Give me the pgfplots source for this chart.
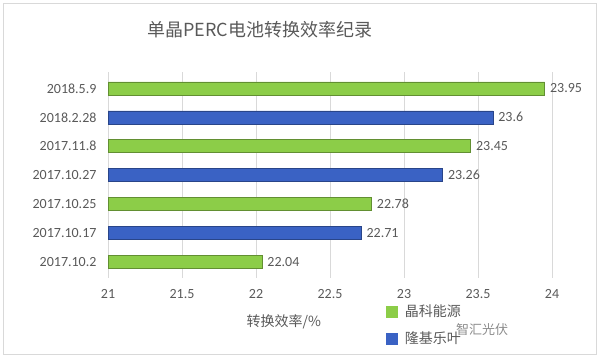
\documentclass[border=0pt]{standalone}
\usepackage{pgfplots}
\pgfplotsset{compat=1.18}
\usepackage{fontspec}
\setmainfont{Carlito}
\newfontfamily\cjk{Noto Sans CJK SC}
\definecolor{bargreen}{RGB}{140,205,72}
\definecolor{barblue}{RGB}{58,98,196}
\definecolor{txtgray}{RGB}{89,89,89}
\definecolor{gridgray}{RGB}{217,217,217}
\begin{document}
\begin{tikzpicture}
\useasboundingbox (0pt,0pt) rectangle (600pt,358pt);
\draw[gridgray] (3pt,4pt) rectangle (596pt,355pt);
\node[font=\cjk\fontsize{18}{22}\selectfont, text=txtgray] at (260pt,328pt) {单晶PERC电池转换效率纪录};
\node[font=\cjk\fontsize{13}{15}\selectfont, text=black!45] at (482pt,28pt) {智汇光伏};
\begin{axis}[
  at={(108pt,80pt)}, anchor=south west, scale only axis,
  width=444pt, height=206pt,
  xbar, bar width=13pt, bar shift=0pt,
  xmin=21, xmax=24, ymin=-0.57, ymax=6.57,
  xtick={21,21.5,...,24}, ytick={0,...,6},
  yticklabels={2017.10.2,2017.10.17,2017.10.25,2017.10.27,2017.11.8,2018.2.28,2018.5.9},
  /pgf/number format/assume math mode=true,
  axis line style={draw=none}, major tick length=0pt,
  xmajorgrids, grid style={gridgray, line width=0.8pt},
  ticklabel style={font=\fontsize{14}{16}\selectfont, text=txtgray},
  xticklabel style={yshift=-8pt},
  yticklabel style={xshift=-8pt},
  xlabel={\cjk 转换效率/\%},
  xlabel style={at={(axis description cs:0.396,-0.214)}, anchor=center, font=\fontsize{14}{16}\selectfont, text=txtgray},
  nodes near coords={\pgfmathprintnumber[fixed,precision=2]{\pgfplotspointmeta}},
  nodes near coords style={font=\fontsize{14}{16}\selectfont, text=txtgray, anchor=west, xshift=2pt},
  legend style={at={(axis description cs:0.62,-0.11)}, anchor=north west, draw=none, fill=none,
    font=\cjk\fontsize{14}{17}\selectfont, text=txtgray, row sep=10pt, cells={anchor=west}},
]
\addplot[fill=bargreen, draw=bargreen!70!black, legend image code/.code={\fill[bargreen] (0pt,-5.5pt) rectangle (11pt,5.5pt);}]
  coordinates {(22.04,0) (22.78,2) (23.45,4) (23.95,6)};
\addlegendentry{\hspace{5pt}晶科能源}
\addplot[fill=barblue, draw=barblue!70!black, legend image code/.code={\fill[barblue] (0pt,-5.5pt) rectangle (11pt,5.5pt);}]
  coordinates {(22.71,1) (23.26,3) (23.6,5)};
\addlegendentry{\hspace{5pt}隆基乐叶}
\end{axis}
\end{tikzpicture}
\end{document}
